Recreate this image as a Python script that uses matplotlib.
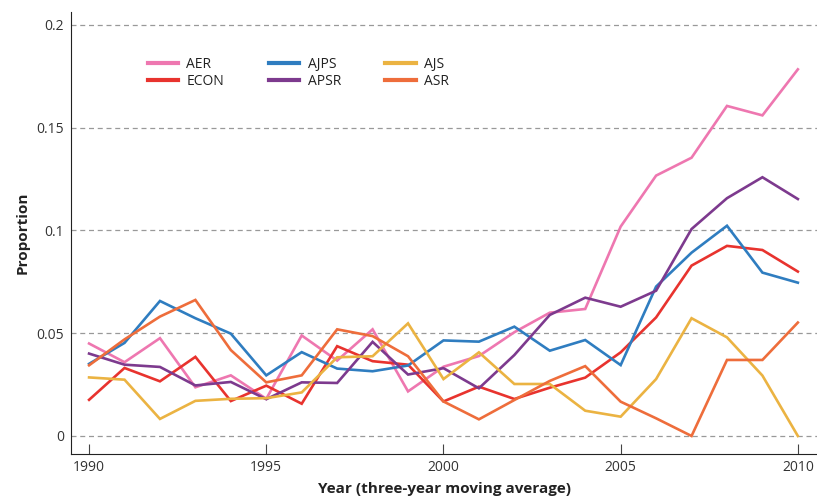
import matplotlib
matplotlib.use("Agg")
import matplotlib.pyplot as plt

years = list(range(1990, 2011))
AER = [0.045, 0.0359, 0.0476, 0.0237, 0.0295, 0.0181, 0.0489, 0.0367, 0.0519, 0.0217, 0.0337,
       0.0389, 0.0505, 0.0600, 0.0618, 0.1019, 0.1267, 0.1354, 0.1606, 0.1560, 0.1784]
ECON = [0.0176, 0.0331, 0.0266, 0.0385, 0.0170, 0.0245, 0.0157, 0.0437, 0.0364, 0.0347, 0.0168,
        0.0240, 0.0180, 0.0235, 0.0284, 0.0407, 0.0577, 0.0829, 0.0925, 0.0905, 0.0800]
AJPS = [0.0351, 0.0453, 0.0657, 0.0573, 0.0498, 0.0295, 0.0408, 0.0328, 0.0315, 0.0343, 0.0465,
        0.0459, 0.0532, 0.0415, 0.0467, 0.0345, 0.0727, 0.0892, 0.1023, 0.0795, 0.0746]
APSR = [0.0401, 0.0347, 0.0336, 0.0246, 0.0263, 0.0179, 0.0261, 0.0258, 0.0458, 0.0299, 0.0330,
        0.0232, 0.0394, 0.0589, 0.0673, 0.0629, 0.0707, 0.1007, 0.1157, 0.1259, 0.1153]
AJS = [0.0285, 0.0274, 0.0083, 0.0171, 0.0181, 0.0184, 0.0212, 0.0383, 0.0388, 0.0548, 0.0277,
       0.0407, 0.0253, 0.0253, 0.0123, 0.0094, 0.0277, 0.0573, 0.0480, 0.0294, 0.0]
ASR = [0.0344, 0.0470, 0.0581, 0.0662, 0.0418, 0.0261, 0.0295, 0.0519, 0.0486, 0.0388, 0.0168,
       0.0081, 0.0175, 0.0268, 0.0340, 0.0167, 0.0086, 0.0, 0.0370, 0.0370, 0.0552]

series = [("AER", AER, "#EE77B0"), ("ECON", ECON, "#E8332E"),
          ("AJPS", AJPS, "#2F7DC0"), ("APSR", APSR, "#7D3A8E"),
          ("AJS", AJS, "#EBB342"), ("ASR", ASR, "#EE6D3B")]

xticks = [1990, 1995, 2000, 2005, 2010]
yticks = [0, 0.05, 0.1, 0.15, 0.2]
yticklabels = ["0", "0.05", "0.1", "0.15", "0.2"]

plt.rcParams['font.family'] = ['Open Sans', 'DejaVu Sans']
fig = plt.figure(figsize=(8.17, 4.98), dpi=100)
ax = fig.add_axes([71/817, 44/498, 1 - 71/817, (454-12)/498])

for name, vals, col in series:
    ax.plot(years, vals, color=col, lw=1.9, label=name, solid_joinstyle='miter')

ax.set_xlim(1989.49, 2010.54)
ax.set_ylim(-0.00876, 0.2063)
ax.set_xticks(xticks)
ax.set_xticklabels([str(t) for t in xticks])
ax.set_yticks(yticks)
ax.set_yticklabels(yticklabels)
ax.grid(axis='y', color='#999999', linestyle=(0, (4, 3)), lw=0.9)
ax.set_axisbelow(True)
for s in ['top', 'right']:
    ax.spines[s].set_visible(False)
ax.spines['left'].set_color('#222222')
ax.spines['bottom'].set_color('#222222')
ax.tick_params(axis='x', direction='in', length=7, width=0.8, color='#444444',
               labelsize=10, labelcolor='#333333', pad=4)
ax.tick_params(axis='y', length=0, labelsize=10, labelcolor='#333333', pad=5)

ax.set_ylabel("Proportion", fontsize=11, fontweight='bold', color='#222222', labelpad=5)
ax.set_xlabel("Year (three-year moving average)", fontsize=11, fontweight='bold',
              color='#222222', labelpad=5.5)

leg = ax.legend(ncol=3, frameon=False, loc='upper left',
                bbox_to_anchor=(142/817, 1 - 51/498), bbox_transform=fig.transFigure,
                fontsize=10, handlelength=2.2, handletextpad=0.6, columnspacing=3.2,
                labelspacing=0.2, borderaxespad=0)
for t in leg.get_texts():
    t.set_color('#222222')
for l in leg.get_lines():
    l.set_linewidth(3)

fig.savefig("out.png", dpi=100)
